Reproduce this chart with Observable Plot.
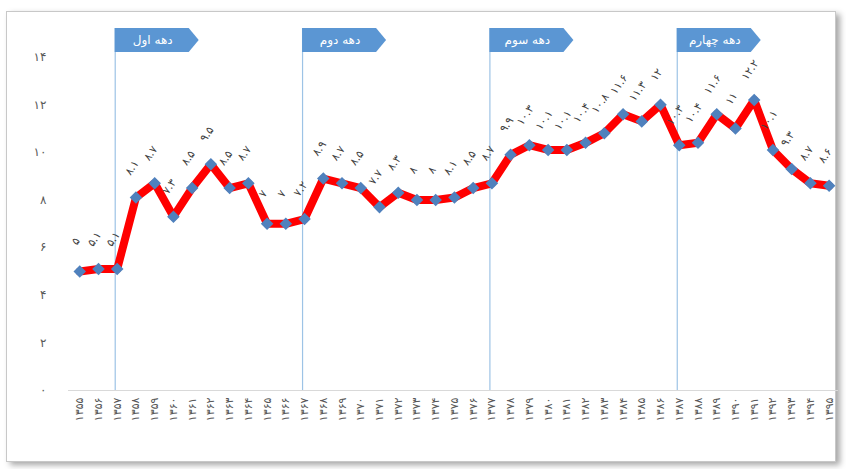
<!DOCTYPE html>
<html><head><meta charset="utf-8">
<script src="https://cdn.jsdelivr.net/npm/d3@7"></script>
<script src="https://cdn.jsdelivr.net/npm/@observablehq/plot@0.6"></script>
<style>
body{margin:0;background:#fff;}
#wrap{position:relative;width:846px;height:469px;overflow:hidden;background:#fff;}
#panel{position:absolute;left:6px;top:11px;width:828px;height:449px;border:1px solid #c8c8c8;box-shadow:4px 3px 6px rgba(0,0,0,0.35);background:#fff;}
#chart{position:absolute;left:0;top:0;}
</style></head>
<body><div id="wrap"><div id="panel"></div><div id="chart"></div></div>
<script>
const years = [1355,1356,1357,1358,1359,1360,1361,1362,1363,1364,1365,1366,1367,1368,1369,1370,1371,1372,1373,1374,1375,1376,1377,1378,1379,1380,1381,1382,1383,1384,1385,1386,1387,1388,1389,1390,1391,1392,1393,1394,1395];
const values = [5,5.1,5.1,8.1,8.7,7.3,8.5,9.5,8.5,8.7,7,7,7.2,8.9,8.7,8.5,7.7,8.3,8,8,8.1,8.5,8.7,9.9,10.3,10.1,10.1,10.4,10.8,11.6,11.3,12,10.3,10.4,11.6,11,12.2,10.1,9.3,8.7,8.6];
const yTicks = [0,2,4,6,8,10,12,14];
const decadeStart = [1357,1367,1377,1387];
const decadeNames = ["دهه اول","دهه دوم","دهه سوم","دهه چهارم"];

const faDigits = "۰۱۲۳۴۵۶۷۸۹";
const fa = v => String(v).replace(/[0-9]/g, c => faDigits[+c]);

const data = years.map((y, i) => ({year: y, value: values[i]}));

const boxes = (index, scales) => {
  const g = d3.create("svg:g");
  decadeStart.forEach((yr, i) => {
    const x0 = scales.x(yr) - 2;
    g.append("path")
      .attr("d", `M${x0},28H${x0 + 74}L${x0 + 84},40L${x0 + 74},52H${x0}Z`)
      .attr("fill", "#5b96d3");
    g.append("text")
      .attr("x", x0 + 38).attr("y", 40)
      .attr("text-anchor", "middle").attr("dy", "0.35em")
      .attr("fill", "#ffffff").attr("font-size", 12)
      .attr("font-family", "DejaVu Sans")
      .text(decadeNames[i]);
  });
  return g.node();
};

const plot = Plot.plot({
  width: 846, height: 469,
  marginLeft: 68, marginRight: 8, marginTop: 28, marginBottom: 79,
  style: {background: "transparent", fontFamily: "DejaVu Sans"},
  x: {type: "linear", domain: [1354.4, 1395.5]},
  y: {domain: [0, 15.2]},
  marks: [
    Plot.ruleY([0], {stroke: "#d9d9d9"}),
    Plot.axisY(yTicks, {tickSize: 0, tickPadding: 22, tickFormat: fa, fill: "#595959", fontSize: 12, label: null}),
    Plot.axisX(years, {tickSize: 0, tickPadding: 7, tickRotate: -90, tickFormat: fa, fill: "#595959", fontSize: 11, label: null}),
    Plot.ruleX(decadeStart, {stroke: "#9dc3e6", strokeWidth: 1.2, dx: -2}),
    Plot.line(data, {x: "year", y: "value", stroke: "#ff0000", strokeWidth: 8, strokeLinejoin: "round"}),
    Plot.dot(data, {x: "year", y: "value", symbol: "square", rotate: 45, r: 5, fill: "#4f81bd", stroke: null}),
    Plot.text(data, {x: "year", y: "value", text: d => fa(d.value), rotate: -55, textAnchor: "middle", dx: -4, dy: -30, fontSize: 11, fill: "#404040"}),
    boxes
  ]
});
document.getElementById("chart").append(plot);
</script>
</body></html>
